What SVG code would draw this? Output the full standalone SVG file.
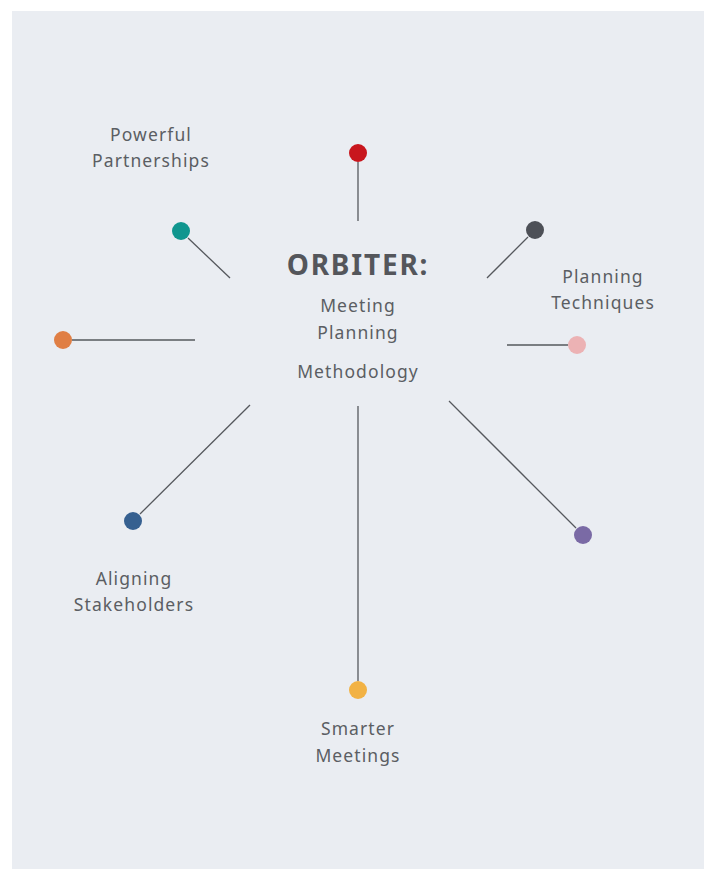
<svg xmlns="http://www.w3.org/2000/svg" width="709" height="869" viewBox="0 0 709 869">
<style>
.lbl{font-family:"Noto Sans","Open Sans","Liberation Sans",sans-serif;font-size:17.5px;fill:#5b5e63;text-anchor:middle;letter-spacing:1.1px}
.title{font-family:"Noto Sans","Open Sans","Liberation Sans",sans-serif;font-size:28px;font-weight:bold;fill:#54565b;text-anchor:middle;letter-spacing:1.8px}
.conn line{stroke:#55585d;stroke-width:1.3}
</style>
<rect x="12" y="11" width="692" height="858" fill="#eaedf2"/>
<g id="connectors" class="conn">
<line x1="358" y1="162" x2="358" y2="221"/>
<line x1="188" y1="238" x2="230" y2="278"/>
<line x1="528" y1="237" x2="487" y2="278"/>
<line x1="507" y1="345" x2="568" y2="345"/>
<line x1="72" y1="340" x2="195" y2="340"/>
<line x1="140" y1="514" x2="250" y2="405"/>
<line x1="576" y1="528" x2="449" y2="401"/>
<line x1="358" y1="406" x2="358" y2="681"/>
</g>
<g id="center">
<text class="title" x="358" y="275">ORBITER:</text>
<text class="lbl" x="358" y="312">Meeting</text>
<text class="lbl" x="358" y="339">Planning</text>
<text class="lbl" x="358" y="378">Methodology</text>
</g>
<g id="node-red"><circle cx="358" cy="153" r="9" fill="#c8161d"/></g>
<g id="node-teal"><circle cx="181" cy="231" r="9" fill="#10968f"/>
<text class="lbl" x="151" y="141">Powerful</text>
<text class="lbl" x="151" y="167">Partnerships</text></g>
<g id="node-dark"><circle cx="535" cy="230" r="9" fill="#4d5057"/></g>
<g id="node-pink"><circle cx="577" cy="345" r="9" fill="#ecb2b4"/>
<text class="lbl" x="603" y="283">Planning</text>
<text class="lbl" x="603" y="309">Techniques</text></g>
<g id="node-orange"><circle cx="63" cy="340" r="9" fill="#e07f45"/></g>
<g id="node-blue"><circle cx="133" cy="521" r="9" fill="#366090"/>
<text class="lbl" x="134" y="585">Aligning</text>
<text class="lbl" x="134" y="611">Stakeholders</text></g>
<g id="node-purple"><circle cx="583" cy="535" r="9" fill="#7a6aa5"/></g>
<g id="node-yellow"><circle cx="358" cy="690" r="9" fill="#f2b244"/>
<text class="lbl" x="358" y="735">Smarter</text>
<text class="lbl" x="358" y="762">Meetings</text></g>
</svg>
